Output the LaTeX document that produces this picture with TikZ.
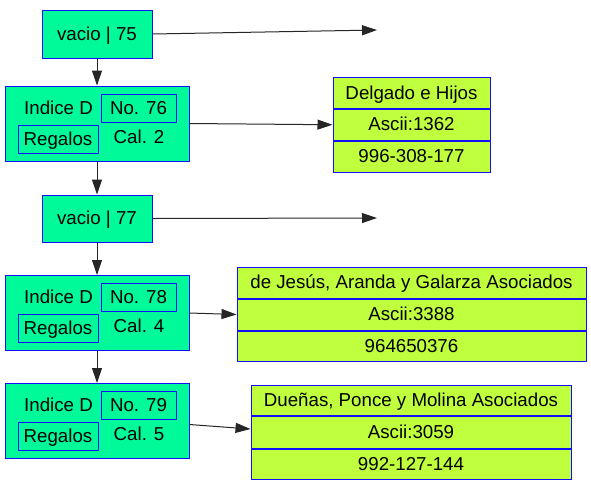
\documentclass[tikz,border=0pt]{standalone}
\usepackage{fontspec}
\setmainfont{Liberation Sans}
\usetikzlibrary{arrows.meta}
\definecolor{gfill}{HTML}{00FA9A}
\definecolor{lfill}{HTML}{C0FF3E}
\definecolor{bline}{HTML}{1010FF}
\newcommand\IdxBox[4]{%
  \node[gbox, minimum width=184pt, minimum height=75pt] (#1) at (97,#2) {};
  \node[ibox, minimum width=75pt, minimum height=28pt] (#1n) at (138.5,{#2-15.5}) {No. #3};
  \node[ibox, minimum width=80pt, minimum height=28pt] (#1r) at (58,{#2+15.5}) {Regalos};
  \node (#1i) at (58.5,{#2-15.5}) {Indice D};
  \node (#1c) at (139,{#2+13.5}) {Cal. #4};
}
\newcommand\RecBox[6]{%
  \node[lbox, minimum width=#3, minimum height=30.5pt] (#1a) at (#2,{#4}) {#5};
  \node[lbox, minimum width=#3, minimum height=30.5pt, anchor=north] (#1b) at (#1a.south) {#6};
}
\begin{document}
\begin{tikzpicture}[x=1pt,y=-1pt,
  every node/.style={font=\fontsize{18.7}{22}\selectfont, text height=16pt, text depth=4pt, inner sep=0pt},
  gbox/.style={draw=bline, fill=gfill, line width=1pt},
  ibox/.style={draw=bline, line width=1pt},
  lbox/.style={draw=bline, fill=lfill, line width=1pt},
  arr/.style={-{Triangle[length=15pt,width=10pt]}, line width=1pt, black!85}]
\useasboundingbox (0,0) rectangle (591,483);

% vacio boxes
\node[gbox, minimum width=110pt, minimum height=48pt] (v75) at (97,34) {vacio | 75};
\node[gbox, minimum width=110pt, minimum height=47pt] (v77) at (97,218.5) {vacio | 77};
\coordinate (e75) at (377,30);
\coordinate (e77) at (377,218);

% index boxes
\IdxBox{i76}{123.5}{76}{2}
\IdxBox{i78}{313}{78}{4}
\IdxBox{i79}{421}{79}{5}

% record boxes
\node[lbox, minimum width=157pt, minimum height=30.5pt] (d1) at (411.5,93) {Delgado e Hijos};
\node[lbox, minimum width=157pt, minimum height=31pt, anchor=north] (d2) at (d1.south) {Ascii:1362};
\node[lbox, minimum width=157pt, minimum height=31pt, anchor=north] (d3) at (d2.south) {996-308-177};

\node[lbox, minimum width=349pt, minimum height=31pt] (j1) at (411.5,282.5) {de Jesús, Aranda y Galarza Asociados};
\node[lbox, minimum width=349pt, minimum height=31pt, anchor=north] (j2) at (j1.south) {Ascii:3388};
\node[lbox, minimum width=349pt, minimum height=30pt, anchor=north] (j3) at (j2.south) {964650376};

\node[lbox, minimum width=320pt, minimum height=30pt] (m1) at (411,400) {Dueñas, Ponce y Molina Asociados};
\node[lbox, minimum width=320pt, minimum height=32pt, anchor=north] (m2) at (m1.south) {Ascii:3059};
\node[lbox, minimum width=320pt, minimum height=30pt, anchor=north] (m3) at (m2.south) {992-127-144};

% connectors
\draw[arr] (v75.east) -- (e75);
\draw[arr] (v77.east) -- (e77);
\draw[arr] (v75.south) -- (i76.north);
\draw[arr] (i76.south) -- (v77.north);
\draw[arr] (v77.south) -- (i78.north);
\draw[arr] (i78.south) -- (i79.north);
\draw[arr] (i76.east) -- (d2.west);
\draw[arr] (i78.east) -- (j2.west);
\draw[arr] ([yshift=-3.5pt]i79.east) -- ([yshift=3pt]m2.west);
\end{tikzpicture}
\end{document}
